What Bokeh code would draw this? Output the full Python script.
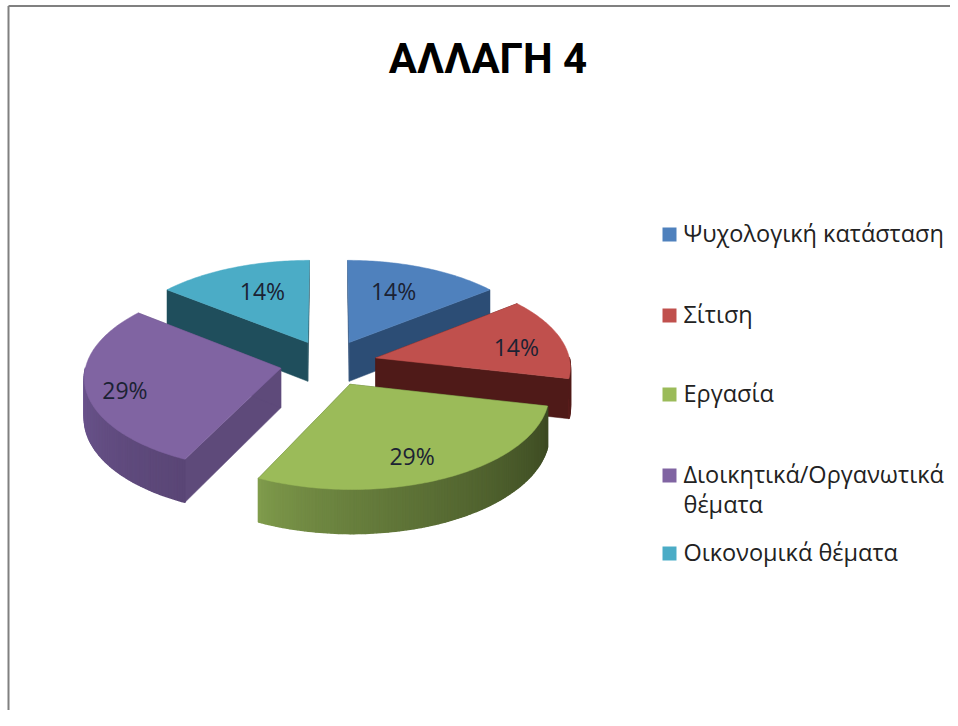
import math
from bokeh.plotting import figure
from bokeh.core.properties import value
from bokeh.embed import file_html
from bokeh.resources import INLINE

# ---- data ----
title_text = "ΑΛΛΑΓΗ 4"
categories = ["Ψυχολογική κατάσταση", "Σίτιση", "Εργασία",
              "Διοικητικά/Οργανωτικά\nθέματα", "Οικονομικά θέματα"]
counts = [1, 1, 2, 2, 1]

# ---- styling ----
top_colors = ["#4f81bd", "#c0504d", "#9bbb59", "#8064a2", "#4bacc6"]
side_colors = ["#2c4d75", "#4f1a18", "#4b6030", "#5e4a7a", "#1f4e5c"]
arc_from = ["#2c4d75", "#5a1e1c", "#809c4c", "#6f5893", "#1f4e5c"]
arc_to = ["#2c4d75", "#4f1a18", "#3c4a22", "#5a4676", "#1f4e5c"]
label_nudge = [(-6, -1.5), (20, 2), (2, 12), (-30, 8), (5, -2)]
draw_order = [4, 0, 3, 1, 2]
legend_rows = [234, 315, 394, 475, 553]

CX, CY, R, Q, K, DEPTH, EXPLODE = 328.0, 362.5, 194.5, 92.5, 0.085, 39.5, 0.25


def project(u, v, drop=0.0):
    den = 1 + K * v
    return CX + R * u / den, CY - Q * v / den + DEPTH * drop / den


def mix(c0, c1, t):
    a = [int(c0[i:i + 2], 16) for i in (1, 3, 5)]
    b = [int(c1[i:i + 2], 16) for i in (1, 3, 5)]
    return "#%02x%02x%02x" % tuple(round(x + (y - x) * t) for x, y in zip(a, b))


p = figure(width=950, height=710, x_range=(0, 950), y_range=(710, 0),
           output_backend="svg", toolbar_location=None,
           min_border=0, background_fill_color="white", border_fill_color="white")
p.axis.visible = False
p.grid.visible = False
p.outline_line_color = None

# slide frame
p.line([8, 8], [710, 5.5], line_color="#808080", line_width=2)
p.line([8, 950], [5.5, 5.5], line_color="#808080", line_width=2)

total = sum(counts)
spans = []
acc = 0
for c in counts:
    spans.append((acc / total * 2 * math.pi, (acc + c) / total * 2 * math.pi))
    acc += c

for i in draw_order:
    a0, a1 = spans[i]
    mid = (a0 + a1) / 2
    ou, ov = EXPLODE * math.sin(mid), EXPLODE * math.cos(mid)
    n = max(2, int(math.degrees(a1 - a0)))
    angles = [a0 + (a1 - a0) * j / n for j in range(n + 1)]
    rim = [(ou + math.sin(a), ov + math.cos(a)) for a in angles]

    # radial walls
    for (eu, ev) in (rim[0], rim[-1]):
        pts = [project(ou, ov), project(eu, ev), project(eu, ev, 1), project(ou, ov, 1)]
        p.patch([q[0] for q in pts], [q[1] for q in pts],
                fill_color=side_colors[i], line_color=side_colors[i], line_width=0.5)

    # outer wall, front part only, shaded along the arc
    front = [j for j in range(n) if math.cos((angles[j] + angles[j + 1]) / 2) < 0]
    if front:
        xs, ys, cols = [], [], []
        ordered = sorted(front, key=lambda j: rim[j][0])
        for t, j in enumerate(ordered):
            pts = [project(*rim[j]), project(*rim[j + 1]),
                   project(*rim[j + 1], 1), project(*rim[j], 1)]
            xs.append([q[0] for q in pts])
            ys.append([q[1] for q in pts])
            frac = t / max(1, len(ordered) - 1)
            cols.append(mix(arc_from[i], arc_to[i], frac ** 0.75))
        p.patches(xs, ys, fill_color=cols, line_color=cols, line_width=1.6)

    # top face
    pts = [project(ou, ov)] + [project(*q) for q in rim]
    p.patch([q[0] for q in pts], [q[1] for q in pts],
            fill_color=top_colors[i], line_color=top_colors[i], line_width=0.5)

# percentage labels
for i in range(len(counts)):
    a0, a1 = spans[i]
    mid = (a0 + a1) / 2
    lu = (EXPLODE + 0.65) * math.sin(mid)
    lv = (EXPLODE + 0.65) * math.cos(mid)
    lx, ly = project(lu, lv)
    p.text([lx + label_nudge[i][0]], [ly + label_nudge[i][1]],
           text=["%d%%" % round(counts[i] / total * 100)],
           text_font=value("Open Sans"), text_font_size="23px", text_color="#1b2233",
           text_align="center", text_baseline="middle")

# title
p.text([487.5], [58], text=[title_text], text_font=value("Roboto"), text_font_style="bold",
       text_font_size="42px", text_color="#000000", text_align="center", text_baseline="middle")

# legend
for i, name in enumerate(categories):
    p.rect([669], [legend_rows[i]], width=14, height=14, fill_color=top_colors[i], line_color=None)
    for k, line in enumerate(name.split("\n")):
        p.text([683], [legend_rows[i] - 1.5 + 30 * k], text=[line], text_font=value("Open Sans"),
               text_font_size="23.5px", text_color="#222222", text_align="left", text_baseline="middle")

open("out.html", "w").write(file_html(p, INLINE))
